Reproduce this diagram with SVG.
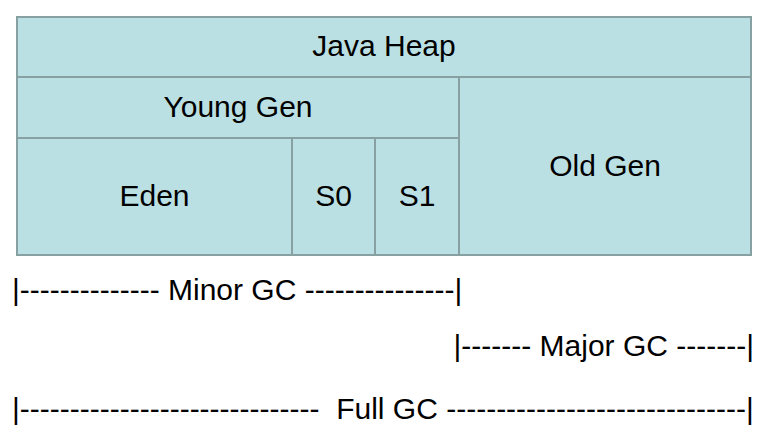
<svg xmlns="http://www.w3.org/2000/svg" width="770" height="437" viewBox="0 0 770 437">
<style>
.box{fill:#bbe0e3;stroke:#88a0a2;stroke-width:2}
.lbl{font-family:"Liberation Sans",Arial,sans-serif;font-size:30px;fill:#000;text-anchor:middle}
.gc{font-family:"Liberation Sans",Arial,sans-serif;font-size:30px;fill:#000;white-space:pre}
</style>
<rect width="770" height="437" fill="#fff"/>
<g id="java-heap"><rect class="box" x="17" y="17" width="734" height="60"/><text class="lbl" x="384" y="56">Java Heap</text></g>
<g id="young-gen"><rect class="box" x="17" y="77" width="442" height="61"/><text class="lbl" x="238" y="117">Young Gen</text></g>
<g id="eden"><rect class="box" x="17" y="138" width="275" height="117"/><text class="lbl" x="154.5" y="205.5">Eden</text></g>
<g id="s0"><rect class="box" x="292" y="138" width="83" height="117"/><text class="lbl" x="333.5" y="205.5">S0</text></g>
<g id="s1"><rect class="box" x="375" y="138" width="84" height="117"/><text class="lbl" x="417" y="205.5">S1</text></g>
<g id="old-gen"><rect class="box" x="459" y="77" width="292" height="178"/><text class="lbl" x="605" y="176">Old Gen</text></g>
<g id="connectors">
<text class="gc" xml:space="preserve" x="12" y="300">|-------------- Minor GC ---------------|</text>
<text class="gc" xml:space="preserve" x="453.5" y="356">|------- Major GC -------|</text>
<text class="gc" xml:space="preserve" x="12" y="419">|------------------------------  Full GC ------------------------------|</text>
</g>
</svg>
